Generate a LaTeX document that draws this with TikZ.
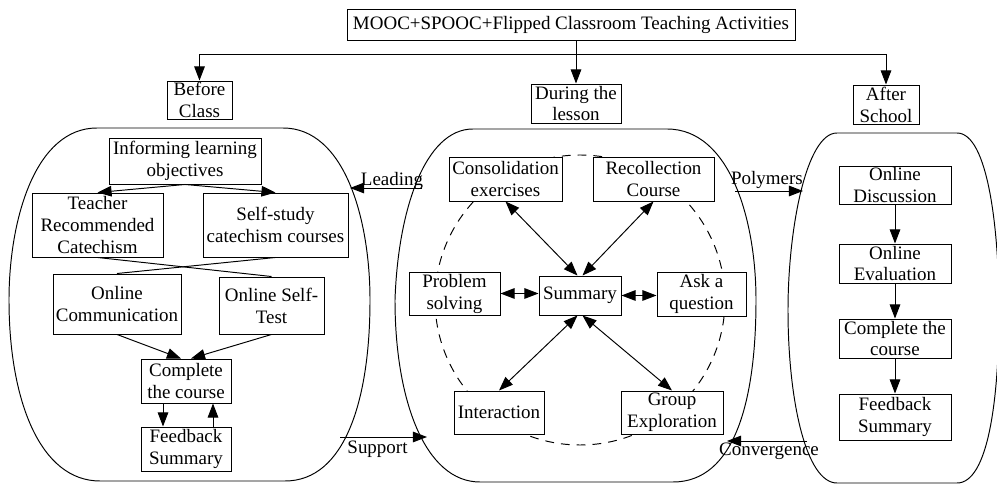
\documentclass[tikz,border=0pt]{standalone}
\usepackage{fontspec}
\setmainfont{Liberation Serif}
\usetikzlibrary{arrows.meta}
\tikzset{
    box/.style={draw, fill=white, align=center, inner sep=0pt},
    arr/.style={-{Triangle[length=8pt,width=6pt]}},
    darr/.style={{Triangle[length=8pt,width=6pt]}-{Triangle[length=8pt,width=6pt]}}
}

\begin{document}
\begin{tikzpicture}[font=\fontsize{10.8}{12.5}\selectfont, line width=0.55pt]
\useasboundingbox (0,0) rectangle (19.94,9.70);

% the three stages
\draw (1.94,7.14) -- (5.66,7.14) .. controls (6.90,7.14) and (7.40,5.30) .. (7.40,3.70)
  .. controls (7.40,1.70) and (6.90,0.08) .. (5.70,0.08) -- (2.00,0.08)
  .. controls (0.80,0.08) and (0.18,1.70) .. (0.18,3.70)
  .. controls (0.18,5.30) and (0.70,7.14) .. cycle;
\draw (9.46,7.12) -- (13.34,7.12) .. controls (14.60,7.12) and (15.12,5.30) .. (15.12,3.70)
  .. controls (15.12,1.70) and (14.70,0.06) .. (13.46,0.06) -- (9.60,0.06)
  .. controls (8.50,0.06) and (7.90,1.70) .. (7.90,3.70)
  .. controls (7.96,5.50) and (8.50,7.12) .. cycle;
\draw (16.74,7.04) -- (19.14,7.04) .. controls (19.76,7.04) and (19.98,5.10) .. (19.98,3.50)
  .. controls (19.98,1.70) and (19.76,0.04) .. (19.14,0.04) -- (16.74,0.04)
  .. controls (16.12,0.04) and (15.76,1.70) .. (15.76,3.50)
  .. controls (15.76,5.10) and (16.12,7.04) .. cycle;
\draw[dash pattern=on 5pt off 4pt] (11.60,3.70) circle (2.90);

% top
\node[box, minimum width=8.96cm, minimum height=0.62cm] (main) at (11.42,9.21) {MOOC+SPOOC+Flipped Classroom Teaching Activities};
\node[box, minimum width=1.30cm, minimum height=0.76cm] (before) at (3.99,7.70) {Before\\Class};
\node[box, minimum width=1.80cm, minimum height=0.78cm] (during) at (11.52,7.63) {During the\\lesson};
\node[box, minimum width=1.32cm, minimum height=0.78cm] (after) at (17.72,7.61) {After\\School};
\coordinate (bus) at (0,8.62);
\draw[arr] (bus -| after.north) -- (bus -| before.north) -- (before.north);
\draw[arr] (bus -| after.north) -- (after.north);
\draw[arr] (main.south -| during.north) -- (during.north);

% before class
\node[box, minimum width=3.04cm, minimum height=0.92cm] (inform) at (3.70,6.48) {Informing learning\\objectives};
\node[box, minimum width=2.62cm, minimum height=1.28cm] (teacher) at (1.95,5.20) {Teacher\\Recommended\\Catechism};
\node[box, minimum width=2.90cm, minimum height=1.28cm] (selfstudy) at (5.51,5.20) {Self-study\\catechism courses};
\node[box, minimum width=2.56cm, minimum height=1.20cm] (onlinecomm) at (2.34,3.62) {Online\\Communication};
\node[box, minimum width=2.10cm, minimum height=1.14cm] (selftest) at (5.43,3.59) {Online Self-\\Test};
\node[box, minimum width=1.80cm, minimum height=0.88cm] (complete) at (3.72,2.08) {Complete\\the course};
\node[box, minimum width=1.80cm, minimum height=0.88cm] (feedback) at (3.72,0.72) {Feedback\\Summary};
\draw[arr] (inform.south) -- (teacher.north);
\draw[arr] (inform.south) -- (selfstudy.north);
\draw (teacher.south) -- (selftest.north);
\draw (selfstudy.south) -- (onlinecomm.north);
\draw[arr] (onlinecomm.south) -- ([xshift=-0.1cm]complete.north);
\draw[arr] (selftest.south) -- ([xshift=0.1cm]complete.north);
\draw[arr] ([xshift=-0.46cm]complete.south) -- ([xshift=-0.46cm]feedback.north);
\draw[arr] ([xshift=0.54cm]feedback.north) -- ([xshift=0.54cm]complete.south);

% during the lesson
\node[box, minimum width=2.26cm, minimum height=0.88cm] (consol) at (10.11,6.12) {Consolidation\\exercises};
\node[box, minimum width=2.42cm, minimum height=0.88cm] (recoll) at (13.07,6.12) {Recollection\\Course};
\node[box, minimum width=1.82cm, minimum height=0.86cm] (problem) at (9.09,3.83) {Problem\\solving};
\node[box, minimum width=1.64cm, minimum height=0.78cm] (summary) at (11.60,3.79) {Summary};
\node[box, minimum width=1.78cm, minimum height=0.88cm] (ask) at (14.03,3.82) {Ask a\\question};
\node[box, minimum width=1.80cm, minimum height=0.86cm] (interact) at (9.98,1.45) {Interaction};
\node[box, minimum width=2.04cm, minimum height=0.86cm] (group) at (13.44,1.45) {Group\\Exploration};
\draw[darr] ([xshift=-0.05cm]summary.north) -- (consol.south);
\draw[darr] ([xshift=0.05cm]summary.north) -- (recoll.south);
\draw[darr] (problem.east) -- (problem.east -| summary.west);
\draw[darr] (summary.east) -- (summary.east -| ask.west);
\draw[darr] ([xshift=-0.05cm]summary.south) -- (interact.north);
\draw[darr] ([xshift=0.05cm]summary.south) -- (group.north);

% after school
\node[box, minimum width=2.24cm, minimum height=0.76cm] (discuss) at (17.90,6.00) {Online\\Discussion};
\node[box, minimum width=2.24cm, minimum height=0.78cm] (evaluate) at (17.90,4.43) {Online\\Evaluation};
\node[box, minimum width=2.24cm, minimum height=0.78cm] (finish) at (17.90,2.93) {Complete the\\course};
\node[box, minimum width=2.24cm, minimum height=0.92cm] (review) at (17.90,1.36) {Feedback\\Summary};
\draw[arr] (discuss) -- (evaluate);
\draw[arr] (evaluate) -- (finish);
\draw[arr] (finish) -- (review);

% links between stages
\coordinate (lead-a) at (8.44,5.94);
\coordinate (lead-b) at (7.00,5.94);
\coordinate (poly-a) at (14.70,5.88);
\coordinate (poly-b) at (16.06,5.88);
\coordinate (supp-a) at (6.80,0.96);
\coordinate (supp-b) at (8.54,0.96);
\coordinate (conv-a) at (16.14,0.88);
\coordinate (conv-b) at (14.54,0.88);
\draw[arr] (lead-a) -- (lead-b);
\draw[arr] (poly-a) -- (poly-b);
\draw[arr] (supp-a) -- (supp-b);
\draw[arr] (conv-a) -- (conv-b);
\node (leading) at (7.84,6.08) {Leading};
\node (polymers) at (15.34,6.10) {Polymers};
\node (support) at (7.55,0.72) {Support};
\node (converge) at (15.38,0.68) {Convergence};
\end{tikzpicture}
\end{document}
